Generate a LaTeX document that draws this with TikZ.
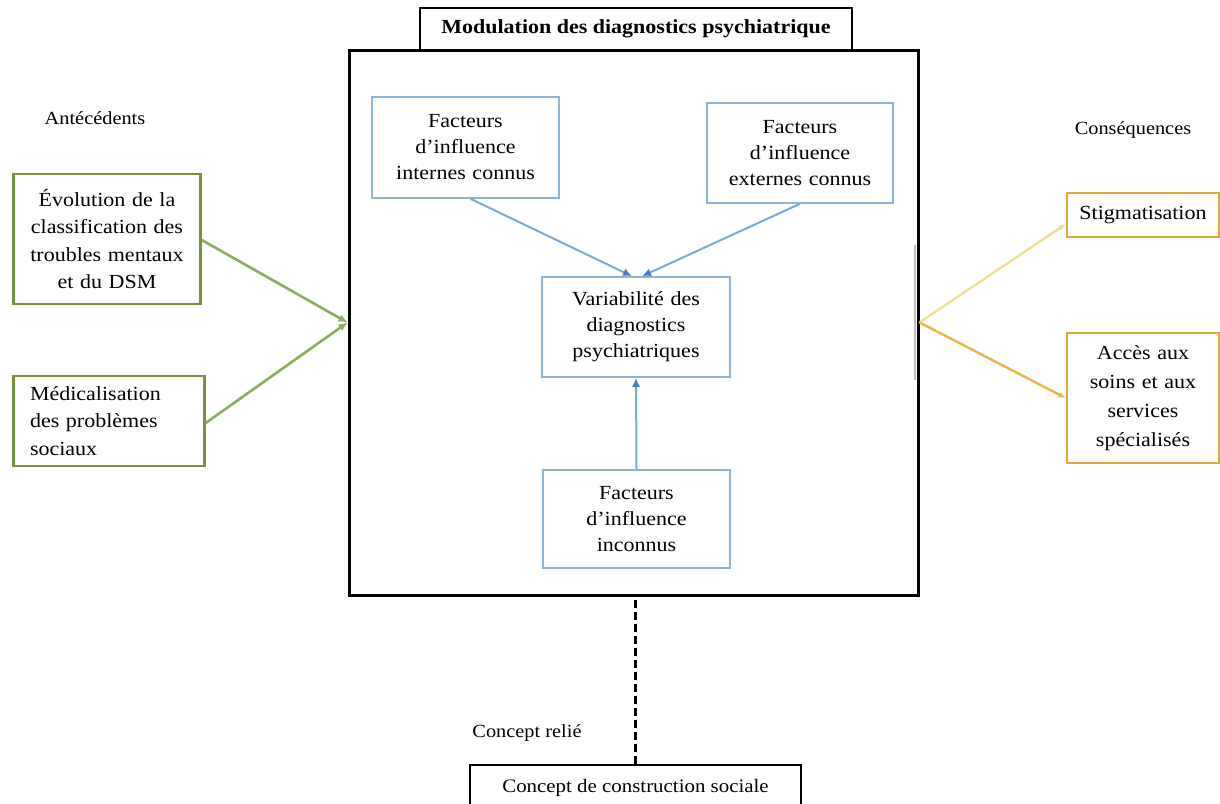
\documentclass[tikz,border=0pt]{standalone}
\usepackage{fontspec}
\setmainfont{Liberation Serif}[FakeStretch=1.1]
\usetikzlibrary{arrows.meta}
\definecolor{gborder}{HTML}{76923C}
\definecolor{garrow}{HTML}{8BAF5F}
\definecolor{bborder}{HTML}{8DB3D5}
\definecolor{barrow}{HTML}{7AAAD8}
\definecolor{bhead}{HTML}{4A7CC4}
\definecolor{oborder}{HTML}{E5A93A}
\definecolor{oarrow}{HTML}{EBB448}
\definecolor{olight}{HTML}{F3DE9A}
\tikzset{
  boxtext/.style={font=\fontsize{20}{26}\selectfont, align=center, inner sep=0pt},
  innerbox/.style={boxtext, draw=bborder, line width=1.6pt},
  greenbox/.style={boxtext, draw=gborder, line width=2.4pt, font=\fontsize{20}{27.5}\selectfont},
  orangebox/.style={boxtext, draw=oborder, line width=2.4pt, font=\fontsize{20}{29}\selectfont},
  mainbox/.style={draw=black, line width=3pt, inner sep=0pt},
  titlebox/.style={draw=black, line width=2.6pt, fill=white, font=\bfseries\fontsize{20}{24}\selectfont, inner sep=0pt},
  plainbox/.style={draw=black, line width=2pt, font=\fontsize{19}{24}\selectfont, inner sep=0pt},
  lbl/.style={font=\fontsize{18.5}{22}\selectfont, inner sep=0pt},
  garr/.style={draw=garrow, line width=2.6pt, -{Latex[length=9pt,width=8pt]}},
  barr/.style={draw=barrow, line width=2pt, -{Latex[length=9pt,width=8pt,color=bhead]}},
  oarr/.style={line width=2.4pt, -{Latex[length=7pt,width=6pt]}},
}
\begin{document}
\begin{tikzpicture}[x=1pt,y=-1pt]
\useasboundingbox[fill=white] (0,0) rectangle (1220,803);

% main frame and title
\node[mainbox, minimum width=569pt, minimum height=545pt] (main) at (633.5,322.5) {};
\node[titlebox, minimum width=432pt, minimum height=42pt] (title) at (636,29) {Modulation des diagnostics psychiatrique};

% inner boxes
\node[innerbox, minimum width=187pt, minimum height=101pt, text width=180pt] (int) at (465.5,147.5) {Facteurs\\d'influence\\internes connus};
\node[innerbox, minimum width=186pt, minimum height=100pt, text width=180pt] (ext) at (800,153) {Facteurs\\d'influence\\externes connus};
\node[innerbox, minimum width=188pt, minimum height=100pt, text width=180pt] (var) at (636,327) {Variabilité des\\diagnostics\\psychiatriques};
\node[innerbox, minimum width=187pt, minimum height=98pt, text width=180pt] (inc) at (636.5,519) {Facteurs\\d'influence\\inconnus};

% left boxes
\node[lbl] (ante) at (95,118) {Antécédents};
\node[greenbox, minimum width=187pt, minimum height=130pt, text width=182pt] (evo) at (107,239) {Évolution de la\\classification des\\troubles mentaux\\et du DSM};
\node[greenbox, minimum width=191pt, minimum height=90pt, text width=158pt, align=left] (med) at (109,421) {Médicalisation\\des problèmes\\sociaux};

% right boxes
\node[lbl] (cons) at (1133,130) {Conséquences};
\node[orangebox, minimum width=152pt, minimum height=44pt, text width=148pt] (stig) at (1143,215) {Stigmatisation};
\node[orangebox, minimum width=152pt, minimum height=130pt, text width=148pt] (acc) at (1143,398) {Accès aux\\soins et aux\\services\\spécialisés};

% bottom
\node[lbl] (rel) at (527,733) {Concept relié};
\node[plainbox, minimum width=331pt, minimum height=46pt] (soc) at (635.5,788) {Concept de construction sociale};

% faint scan line on the right edge
\draw[black!25, line width=1.5pt] (915,245) -- (915,380);

% connectors
\draw[garr] (evo.east) ++(0,1) -- (main.west);
\draw[garr] (med.east) ++(0,2) -- (main.west);

\draw[barr] (int.south) ++(5,0) -- ([xshift=-4pt]var.north);
\draw[barr] (ext.south) -- ([xshift=6pt]var.north);
\draw[barr] (inc.north) -- (var.south);

\draw[oarr, draw=olight] (main.east) -- ([yshift=-9pt]stig.west);
\draw[oarr, draw=oarrow] (main.east) -- (acc.west);

\draw[black, line width=2.4pt, dash pattern=on 8pt off 4pt] (soc.north) -- (soc.north |- main.south);
\end{tikzpicture}
\end{document}
